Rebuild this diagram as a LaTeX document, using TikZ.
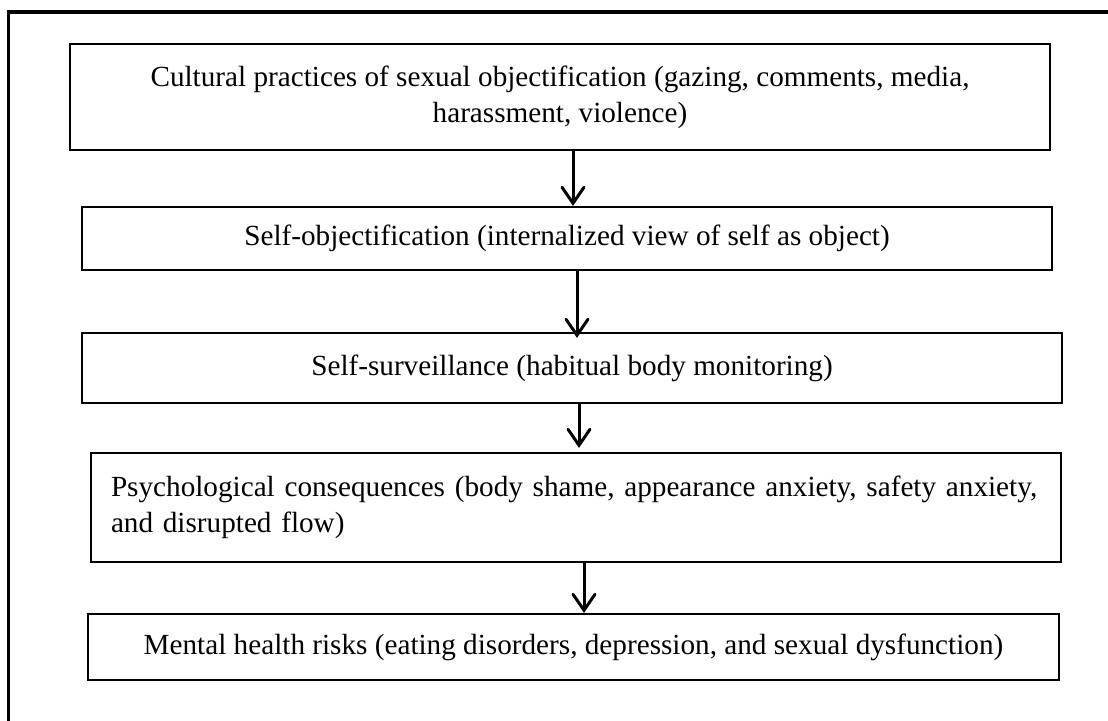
\documentclass[tikz,border=0pt]{standalone}
\usepackage{fontspec}
\setmainfont{Liberation Serif}
\usetikzlibrary{arrows.meta}
\begin{document}
\begin{tikzpicture}[x=1pt,y=-1pt,
  box/.style={draw,line width=2.2pt,inner sep=0pt,
    font=\fontsize{29.2}{36}\selectfont},
  flow/.style={line width=3pt,
    -{Straight Barb[length=16pt,width=22pt,line cap=round]}}]
\useasboundingbox (0,0) rectangle (1108,720);
\clip (0,0) rectangle (1108,720);
% frame around the chart (runs off the right and bottom edges)
\draw[line width=3.5pt] (8.5,760) |- (1140,12);

\node[box,minimum width=980pt,minimum height=106pt,align=center] (b1) at (560,97)
  {Cultural practices of sexual objectification (gazing, comments, media,\\harassment, violence)};
\node[box,minimum width=970pt,minimum height=63pt,align=center] (b2) at (567,238.5)
  {Self-objectification (internalized view of self as object)};
\node[box,minimum width=980pt,minimum height=70pt,align=center] (b3) at (572,368)
  {Self-surveillance (habitual body monitoring)};
\node[box,minimum width=970pt,minimum height=109pt,text width=930pt,align=left] (b4) at (576,507.5)
  {\mbox{Psychological consequences (body shame, appearance anxiety, safety anxiety,}\\and disrupted flow)};
\node[box,minimum width=971pt,minimum height=66pt,align=center] (b5) at (573.5,647)
  {Mental health risks (eating disorders, depression, and sexual dysfunction)};

\draw[flow] (b1.south -| 573,0) -- (b2.north -| 573,0);
\draw[flow] (b2.south -| 577,0) -- ([yshift=-6pt]b3.north -| 577,0);
\draw[flow] (b3.south -| 579,0) -- ([yshift=4pt]b4.north -| 579,0);
\draw[flow] (b4.south -| 584,0) -- (b5.north -| 584,0);
\end{tikzpicture}
\end{document}
